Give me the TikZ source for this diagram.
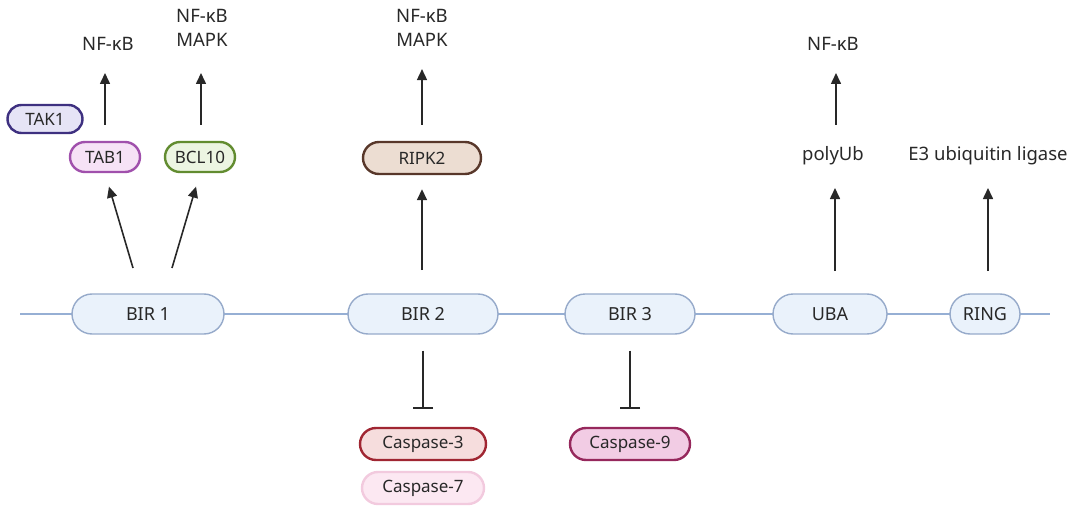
\documentclass[tikz,border=0pt]{standalone}
\usepackage{fontspec}
\setmainfont{Noto Sans}
\usetikzlibrary{arrows.meta}
\definecolor{txt}{RGB}{40,40,40}
\definecolor{lineblue}{RGB}{150,175,212}
\definecolor{birfill}{RGB}{234,242,251}
\definecolor{birdraw}{RGB}{150,170,202}
\tikzset{
  pill/.style={draw, rounded corners=#1, inner sep=0pt, align=center, text=txt, font=\fontsize{17}{17}\selectfont},
  bir/.style={pill=20pt, fill=birfill, draw=birdraw, line width=1.4pt, minimum height=40pt, font=\fontsize{18}{18}\selectfont},
  prot/.style={pill=15pt, line width=2.4pt, minimum height=30pt},
  lbl/.style={text=txt, font=\fontsize{18.5}{18.5}\selectfont, inner sep=0pt, align=center},
  arr/.style={draw=txt, line width=1.6pt, -{Triangle[length=11pt,width=10pt]}},
  inh/.style={draw=txt, line width=1.5pt, -{Bar[width=20pt,line width=1.5pt]}},
}
\begin{document}
\begin{tikzpicture}[x=1pt,y=-1pt]
\useasboundingbox (0,0) rectangle (1079,508);
\coordinate (l0) at (20,314);
\coordinate (l1) at (1050,314);
\draw[lineblue, line width=1.6pt] (l0) -- (l1);
% domains
\node[bir, minimum width=152pt] (bir1) at (148,314) {BIR 1};
\node[bir, minimum width=150pt] (bir2) at (423,314) {BIR 2};
\node[bir, minimum width=130pt] (bir3) at (630,314) {BIR 3};
\node[bir, minimum width=114pt] (uba) at (830,314) {UBA};
\node[bir, minimum width=70pt] (ring) at (985,314) {RING};
% proteins
\node[prot, minimum width=75pt, minimum height=28pt, pill=14pt, fill={rgb,255:red,230;green,228;blue,246}, draw={rgb,255:red,62;green,48;blue,128}] (tak1) at (45,119) {TAK1};
\node[prot, minimum width=70pt, fill={rgb,255:red,246;green,226;blue,246}, draw={rgb,255:red,160;green,80;blue,172}] (tab1) at (105,157) {TAB1};
\node[prot, minimum width=70pt, fill={rgb,255:red,236;green,245;blue,226}, draw={rgb,255:red,98;green,140;blue,48}] (bcl10) at (200,157) {BCL10};
\node[prot, minimum width=118pt, minimum height=32pt, pill=16pt, fill={rgb,255:red,236;green,221;blue,210}, draw={rgb,255:red,88;green,55;blue,42}] (ripk2) at (422,158) {RIPK2};
\node[prot, minimum width=126pt, minimum height=32pt, pill=16pt, fill={rgb,255:red,246;green,221;blue,221}, draw={rgb,255:red,160;green,38;blue,50}] (casp3) at (423,444) {Caspase-3};
\node[prot, minimum width=122pt, minimum height=32pt, pill=16pt, fill={rgb,255:red,252;green,232;blue,242}, draw={rgb,255:red,242;green,202;blue,222}] (casp7) at (423,488) {Caspase-7};
\node[prot, minimum width=120pt, minimum height=32pt, pill=16pt, fill={rgb,255:red,242;green,204;blue,228}, draw={rgb,255:red,150;green,40;blue,92}] (casp9) at (630,444) {Caspase-9};
% labels
\node[lbl] (nf1) at (108,44) {NF-κB};
\node[lbl] (nfm1) at (202,28) {NF-κB\\[6pt]MAPK};
\node[lbl] (nfm2) at (422,28) {NF-κB\\[6pt]MAPK};
\node[lbl] (nf3) at (833,44) {NF-κB};
\node[lbl] (poly) at (833,156) {polyUb};
\node[lbl] (e3) at (988,156) {E3 ubiquitin ligase};
% arrows from domains
\coordinate (s1) at (133,268);
\coordinate (s2) at (172,268);
\draw[arr, shorten >=14pt] (s1) -- (tab1.south);
\draw[arr, shorten >=14pt] (s2) -- (bcl10.south);
\coordinate (b2a) at (422,294);
\draw[arr, shorten <=24pt, shorten >=14pt] (b2a) -- (ripk2.south);
\coordinate (u0) at (835,294);
\coordinate (u1) at (835,172);
\draw[arr, shorten <=23pt, shorten >=16pt] (u0) -- (u1);
\coordinate (r0) at (988,294);
\coordinate (r1) at (988,172);
\draw[arr, shorten <=23pt, shorten >=16pt] (r0) -- (r1);
% upper arrows
\coordinate (t0) at (105,125);
\coordinate (t1) at (105,73);
\draw[arr] (t0) -- (t1);
\coordinate (c0) at (201,125);
\coordinate (c1) at (201,73);
\draw[arr] (c0) -- (c1);
\draw[arr, shorten <=16pt, shorten >=22pt] (ripk2.north) -- (nfm2.south);
\coordinate (p0) at (836,125);
\coordinate (p1) at (836,73);
\draw[arr] (p0) -- (p1);
% inhibition
\draw[inh, shorten <=16pt, shorten >=18pt] (bir2.south) -- (casp3.north);
\draw[inh, shorten <=16pt, shorten >=18pt] (bir3.south) -- (casp9.north);
\end{tikzpicture}
\end{document}
